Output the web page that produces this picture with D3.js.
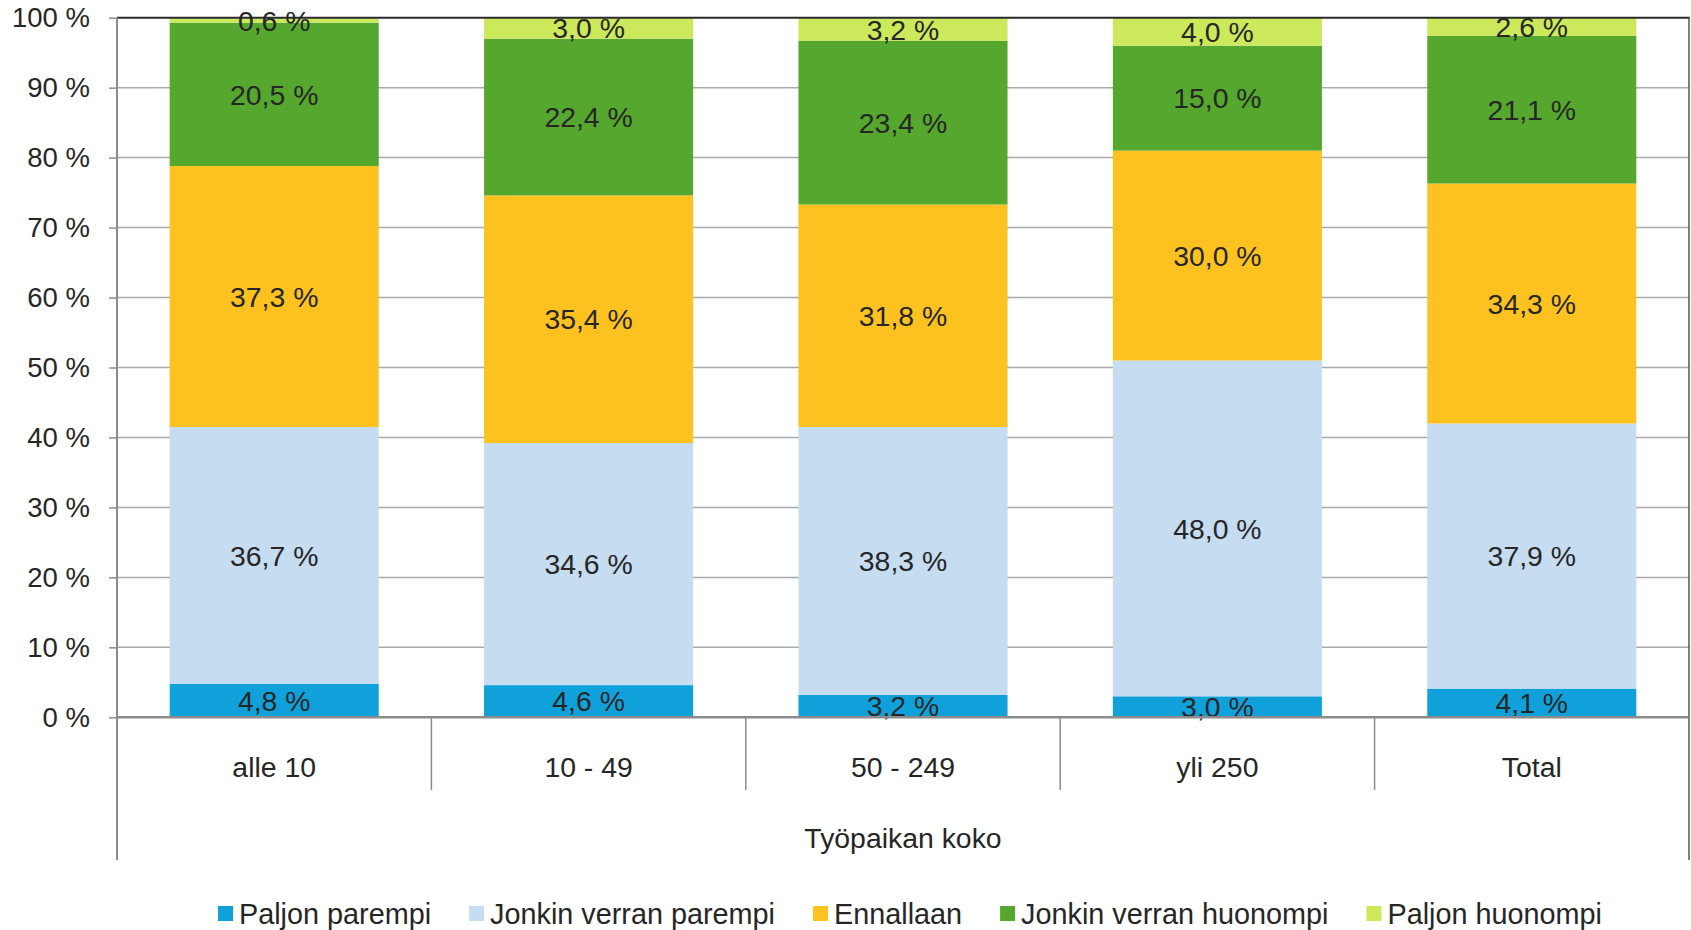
<!DOCTYPE html>
<html>
<head>
<meta charset="utf-8">
<script src="https://cdn.jsdelivr.net/npm/d3@7"></script>
<style>
  body { margin: 0; background: #fff; }
  text { font-family: "Liberation Sans", Arial, sans-serif; fill: #262626; }
</style>
</head>
<body>
<div id="chart"></div>
<script>
// data
var categories = ["alle 10", "10 - 49", "50 - 249", "yli 250", "Total"];
var seriesNames = ["Paljon parempi", "Jonkin verran parempi", "Ennallaan", "Jonkin verran huonompi", "Paljon huonompi"];
var paljonParempi = [4.8, 4.6, 3.2, 3.0, 4.1];
var jonkinParempi = [36.7, 34.6, 38.3, 48.0, 37.9];
var ennallaan = [37.3, 35.4, 31.8, 30.0, 34.3];
var jonkinHuonompi = [20.5, 22.4, 23.4, 15.0, 21.1];
var paljonHuonompi = [0.6, 3.0, 3.2, 4.0, 2.6];
var yTicks = [0, 10, 20, 30, 40, 50, 60, 70, 80, 90, 100];
var axisTitle = "Työpaikan koko";

var colors = ["#10a1db", "#c6dcf1", "#fdc21f", "#55a82d", "#cce85b"];
var seriesValues = [paljonParempi, jonkinParempi, ennallaan, jonkinHuonompi, paljonHuonompi];

var width = 1691, height = 930;
var plotLeft = 117, plotRight = 1689, plotTop = 17.7, plotBottom = 717.3;

var svg = d3.select("#chart").append("svg")
  .attr("width", width)
  .attr("height", height);

var x = d3.scaleBand()
  .domain(categories)
  .range([plotLeft, plotRight])
  .paddingInner(0.335)
  .paddingOuter(0.1675);

var cell = d3.scaleBand().domain(categories).range([plotLeft, plotRight]);

var y = d3.scaleLinear().domain([0, 100]).range([plotBottom, plotTop]);

function fmt(v) { return d3.format(".1f")(v).replace(".", ",") + " %"; }

// gridlines
svg.append("g").selectAll("line")
  .data(yTicks.filter(function(d) { return d > 0 && d < 100; }))
  .enter().append("line")
  .attr("x1", plotLeft).attr("x2", plotRight)
  .attr("y1", function(d) { return y(d); })
  .attr("y2", function(d) { return y(d); })
  .style("stroke", "#a9a9a9")
  .style("stroke-width", "1.5px");

// stacked data
var rows = categories.map(function(c, i) {
  var r = { cat: c };
  seriesNames.forEach(function(s, j) { r[s] = seriesValues[j][i]; });
  return r;
});
var stacked = d3.stack().keys(seriesNames)(rows);

var layers = svg.append("g").selectAll("g")
  .data(stacked)
  .enter().append("g")
  .style("fill", function(d, i) { return colors[i]; });

layers.selectAll("rect")
  .data(function(d) { return d; })
  .enter().append("rect")
  .attr("x", function(d) { return x(d.data.cat); })
  .attr("width", x.bandwidth())
  .attr("y", function(d) { return y(d[1]); })
  .attr("height", function(d) { return y(d[0]) - y(d[1]); });

// frame top + right
svg.append("line")
  .attr("x1", plotLeft).attr("x2", plotRight + 0.75)
  .attr("y1", plotTop).attr("y2", plotTop)
  .style("stroke", "#2a2a2a").style("stroke-width", "2px");
svg.append("line")
  .attr("x1", plotRight).attr("x2", plotRight)
  .attr("y1", plotTop).attr("y2", 860)
  .style("stroke", "#555").style("stroke-width", "1.5px");

// value labels
stacked.forEach(function(layer) {
  svg.append("g").selectAll("text")
    .data(layer)
    .enter().append("text")
    .attr("x", function(d) { return x(d.data.cat) + x.bandwidth() / 2; })
    .attr("y", function(d) { return (y(d[0]) + y(d[1])) / 2; })
    .attr("dy", "0.36em")
    .attr("text-anchor", "middle")
    .style("font-size", "28.4px")
    .text(function(d) { return fmt(d[1] - d[0]); });
});

// y axis
var yAxis = svg.append("g")
  .attr("transform", "translate(" + plotLeft + ",0)")
  .call(d3.axisLeft(y).tickValues(yTicks).tickSize(8).tickPadding(19)
    .tickFormat(function(d) { return d + " %"; }));
yAxis.select(".domain").remove();
yAxis.selectAll(".tick line").style("stroke", "#8c8c8c").style("stroke-width", "1.5px");
yAxis.selectAll(".tick text")
  .style("font-size", "27.5px")
  .style("font-family", "'Liberation Sans', Arial, sans-serif")
  .style("fill", "#262626");

// left axis line, extended down
svg.append("line")
  .attr("x1", plotLeft).attr("x2", plotLeft)
  .attr("y1", plotTop).attr("y2", 860)
  .style("stroke", "#8c8c8c").style("stroke-width", "2px");

// baseline
svg.append("line")
  .attr("x1", plotLeft).attr("x2", plotRight)
  .attr("y1", plotBottom).attr("y2", plotBottom)
  .style("stroke", "#8c8c8c").style("stroke-width", "2.5px");

// category separators
svg.append("g").selectAll("line")
  .data(categories.slice(1))
  .enter().append("line")
  .attr("x1", function(d) { return cell(d); })
  .attr("x2", function(d) { return cell(d); })
  .attr("y1", plotBottom).attr("y2", 790)
  .style("stroke", "#8c8c8c").style("stroke-width", "1.5px");

// category labels
svg.append("g").selectAll("text")
  .data(categories)
  .enter().append("text")
  .attr("x", function(d) { return x(d) + x.bandwidth() / 2; })
  .attr("y", 767)
  .attr("dy", "0.36em")
  .attr("text-anchor", "middle")
  .style("font-size", "28.4px")
  .text(function(d) { return d; });

svg.append("text")
  .attr("x", (plotLeft + plotRight) / 2)
  .attr("y", 838)
  .attr("dy", "0.36em")
  .attr("text-anchor", "middle")
  .style("font-size", "28.4px")
  .text(axisTitle);

// legend
var legend = svg.append("g");
var items = legend.selectAll("g")
  .data(seriesNames)
  .enter().append("g");
items.append("rect")
  .attr("width", 15).attr("height", 15)
  .attr("y", 906)
  .style("fill", function(d, i) { return colors[i]; });
items.append("text")
  .attr("x", 21)
  .attr("y", 913.5)
  .attr("dy", "0.36em")
  .style("font-size", "28.8px")
  .text(function(d) { return d; });

var pos = 0, offsets = [];
items.each(function() {
  offsets.push(pos);
  pos += 21 + d3.select(this).select("text").node().getComputedTextLength() + 38;
});
var total = pos - 38;
var start = 910 - total / 2;
items.attr("transform", function(d, i) { return "translate(" + (start + offsets[i]) + ",0)"; });
</script>
</body>
</html>
